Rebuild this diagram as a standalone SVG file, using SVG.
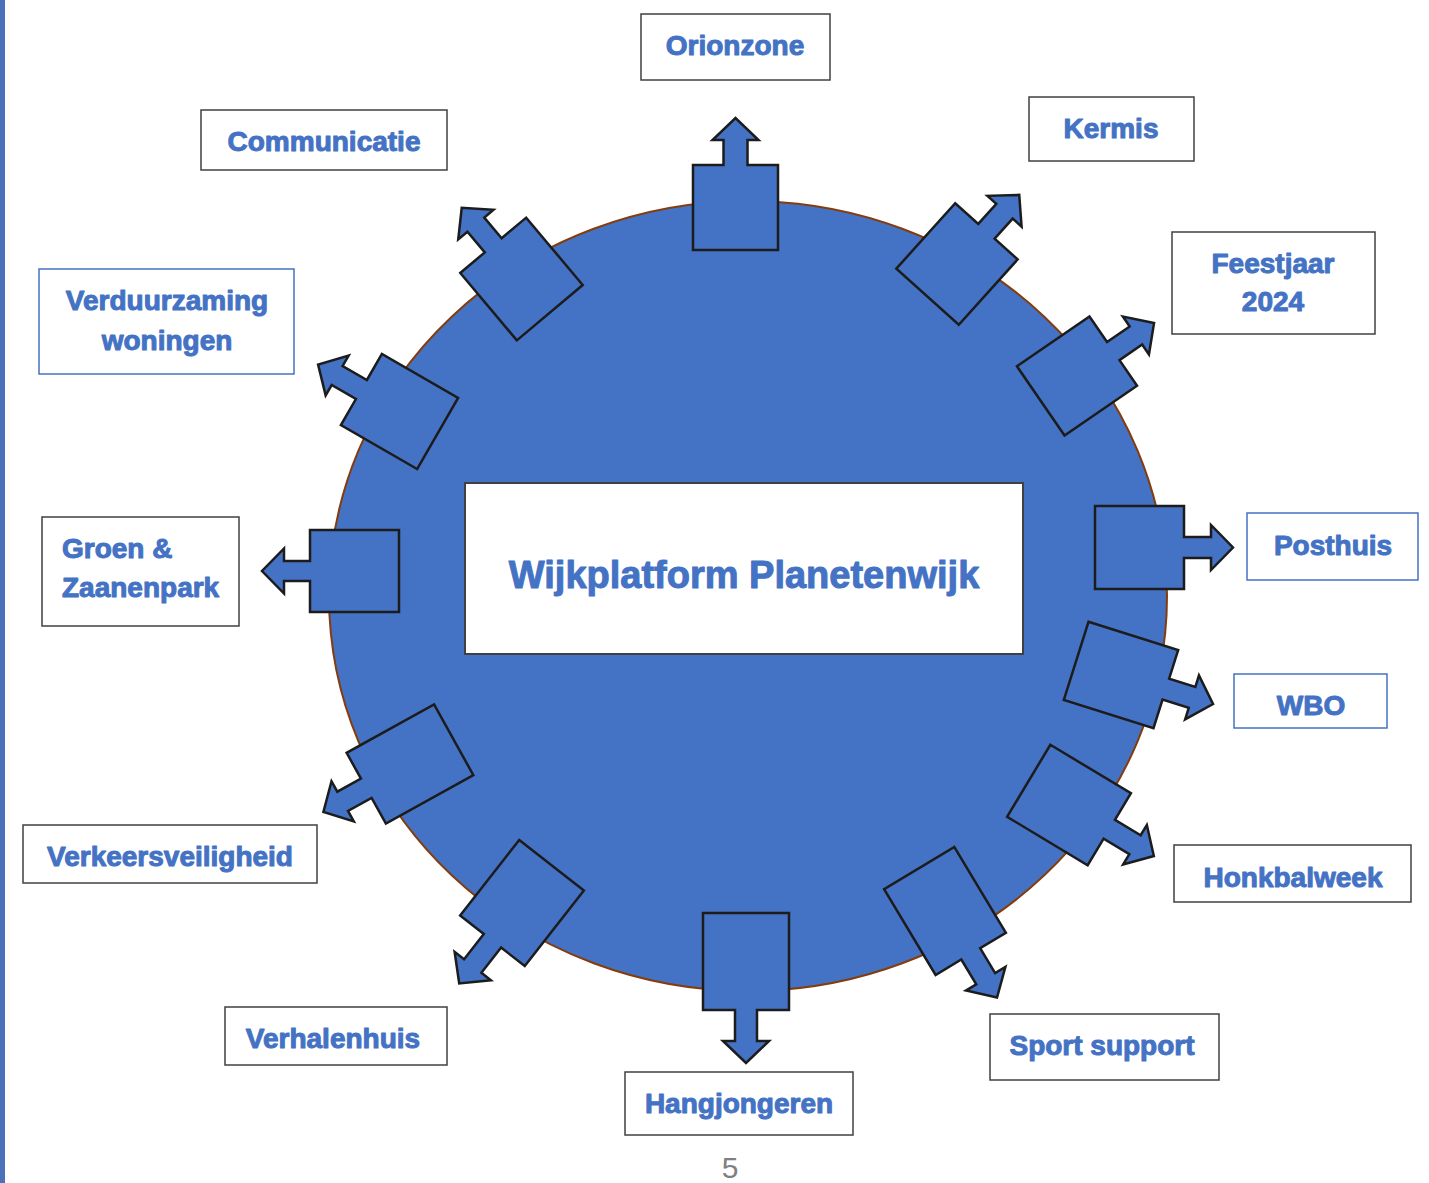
<svg xmlns="http://www.w3.org/2000/svg" width="1429" height="1183" viewBox="0 0 1429 1183">
<style>
.box{fill:#fff;stroke:#404040;stroke-width:1.5}
.bbox{fill:#fff;stroke:#4472C4;stroke-width:1.5}
.lbl{font-family:"Liberation Sans",Arial,sans-serif;font-weight:bold;font-size:28px;fill:#4472C4;stroke:#4472C4;stroke-width:1;stroke-linejoin:round;text-anchor:middle}
.arr{fill:#4472C4;stroke:#1c1c1c;stroke-width:2.5;stroke-linejoin:miter}
</style>
<rect x="0" y="0" width="1429" height="1183" fill="#fff"/>
<rect x="0" y="0" width="5" height="1183" fill="#4a72b8"/>
<g id="hub">
<ellipse cx="748" cy="596" rx="419" ry="395" fill="#4472C4" stroke="#843C0C" stroke-width="2"/>
</g>
<g id="connectors">
<path class="arr" transform="translate(735.5,207.5) rotate(-90)" d="M-42.5,-42.5 H42.5 V-12 H67.5 V-23 L89.5,0 L67.5,23 V12 H42.5 V42.5 H-42.5 Z"/>
<path class="arr" transform="translate(957,264) rotate(-48)" d="M-44,-42 H44 V-11 H71 V-23 L93,0 L71,23 V11 H44 V42 H-44 Z"/>
<path class="arr" transform="translate(1077,376) rotate(-34.5)" d="M-44,-42 H44 V-11 H71.5 V-23 L93.5,0 L71.5,23 V11 H44 V42 H-44 Z"/>
<path class="arr" transform="translate(1139.5,547.5)" d="M-44.5,-41.5 H44.5 V-10.5 H71.5 V-22.5 L93.5,0 L71.5,22.5 V10.5 H44.5 V41.5 H-44.5 Z"/>
<path class="arr" transform="translate(1121,675) rotate(17.5)" d="M-47,-41 H47 V-11 H74.5 V-23 L96.5,0 L74.5,23 V11 H47 V41 H-47 Z"/>
<path class="arr" transform="translate(1069,805) rotate(31)" d="M-47,-42 H47 V-11 H77 V-23 L99,0 L77,23 V11 H47 V42 H-47 Z"/>
<path class="arr" transform="translate(945,911) rotate(59)" d="M-50,-41 H50 V-11 H79 V-23 L101,0 L79,23 V11 H50 V41 H-50 Z"/>
<path class="arr" transform="translate(746,961.5) rotate(90)" d="M-48.5,-43 H48.5 V-11 H79.5 V-23 L101.5,0 L79.5,23 V11 H48.5 V43 H-48.5 Z"/>
<path class="arr" transform="translate(522,903) rotate(128)" d="M-48,-41 H48 V-11 H80 V-23 L102,0 L80,23 V11 H48 V41 H-48 Z"/>
<path class="arr" transform="translate(410,764) rotate(151)" d="M-50,-40.5 H50 V-11 H77 V-23 L99,0 L77,23 V11 H50 V40.5 H-50 Z"/>
<path class="arr" transform="translate(354.5,571) rotate(180)" d="M-44.5,-41 H44.5 V-10 H70.5 V-22.5 L92.5,0 L70.5,22.5 V10 H44.5 V41 H-44.5 Z"/>
<path class="arr" transform="translate(399.5,411.5) rotate(210)" d="M-44,-41 H44 V-11 H72 V-23 L94,0 L72,23 V11 H44 V41 H-44 Z"/>
<path class="arr" transform="translate(521.5,279) rotate(230)" d="M-44,-43 H44 V-11 H71 V-23 L93,0 L71,23 V11 H44 V43 H-44 Z"/>
</g>
<g id="center">
<rect x="465" y="483" width="558" height="171" fill="#fff" stroke="#404040" stroke-width="2"/>
<text class="lbl" x="744" y="588" style="font-size:38px">Wijkplatform Planetenwijk</text>
</g>
<g id="orionzone"><rect class="box" x="641" y="14" width="189" height="66"/><text class="lbl" x="735" y="55">Orionzone</text></g>
<g id="communicatie"><rect class="box" x="201" y="110" width="246" height="60"/><text class="lbl" x="324" y="151">Communicatie</text></g>
<g id="kermis"><rect class="box" x="1029" y="97" width="165" height="64"/><text class="lbl" x="1111" y="138">Kermis</text></g>
<g id="feestjaar"><rect class="box" x="1172" y="232" width="203" height="102"/><text class="lbl" x="1273" y="273">Feestjaar</text><text class="lbl" x="1273" y="311">2024</text></g>
<g id="verduurzaming"><rect class="bbox" x="39" y="269" width="255" height="105"/><text class="lbl" x="167" y="310">Verduurzaming</text><text class="lbl" x="167" y="350">woningen</text></g>
<g id="posthuis"><rect class="bbox" x="1247" y="513" width="171" height="67"/><text class="lbl" x="1333" y="555">Posthuis</text></g>
<g id="groen"><rect class="box" x="42" y="517" width="197" height="109"/><text class="lbl" x="62" y="558" style="text-anchor:start">Groen &amp;</text><text class="lbl" x="62" y="597" style="text-anchor:start">Zaanenpark</text></g>
<g id="wbo"><rect class="bbox" x="1234" y="674" width="153" height="54"/><text class="lbl" x="1311" y="715">WBO</text></g>
<g id="verkeersveiligheid"><rect class="box" x="23" y="825" width="294" height="58"/><text class="lbl" x="170" y="866">Verkeersveiligheid</text></g>
<g id="honkbalweek"><rect class="box" x="1174" y="845" width="237" height="57"/><text class="lbl" x="1293" y="887">Honkbalweek</text></g>
<g id="verhalenhuis"><rect class="box" x="225" y="1007" width="222" height="58"/><text class="lbl" x="333" y="1048">Verhalenhuis</text></g>
<g id="sportsupport"><rect class="box" x="990" y="1014" width="229" height="66"/><text class="lbl" x="1102" y="1055">Sport support</text></g>
<g id="hangjongeren"><rect class="box" x="625" y="1072" width="228" height="63"/><text class="lbl" x="739" y="1113">Hangjongeren</text></g>
<text x="730" y="1178" font-family="Liberation Sans, Arial, sans-serif" font-size="30" fill="#808080" text-anchor="middle">5</text>
</svg>
